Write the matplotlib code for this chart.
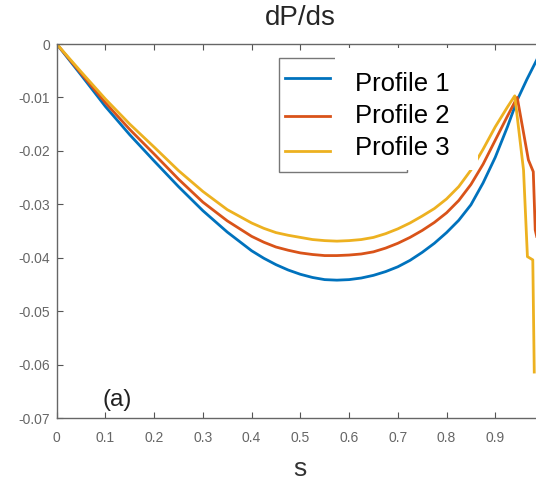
import matplotlib
matplotlib.use("Agg")
import matplotlib.pyplot as plt
from matplotlib.patches import Rectangle
from matplotlib.lines import Line2D

plt.rcParams['font.family'] = ['Liberation Sans', 'DejaVu Sans']

# values
s_main = [0, 0.05, 0.1, 0.15, 0.2, 0.25, 0.3, 0.35, 0.4, 0.425, 0.45, 0.475, 0.5, 0.525,
          0.55, 0.575, 0.6, 0.625, 0.65, 0.675, 0.7, 0.725, 0.75, 0.775, 0.8, 0.825,
          0.85, 0.875, 0.9, 0.925]

s1 = s_main + [0.945, 0.965, 0.985, 1.0]
p1 = [0, -0.0058, -0.0117, -0.0170, -0.0219, -0.0267, -0.0312, -0.0352, -0.0387, -0.0401,
      -0.0413, -0.0423, -0.0431, -0.0437, -0.0441, -0.0442, -0.0441, -0.0438, -0.0433,
      -0.0426, -0.0417, -0.0405, -0.0390, -0.0373, -0.0353, -0.0330, -0.0301, -0.0260,
      -0.0212, -0.0155,
      -0.0105, -0.0066, -0.0030, 0.0]

s2 = s_main + [0.945, 0.968, 0.978, 0.982, 0.985]
p2 = [0, -0.0055, -0.0110, -0.0160, -0.0206, -0.0253, -0.0296, -0.0331, -0.0360, -0.0371,
      -0.0380, -0.0386, -0.0391, -0.0394, -0.0396, -0.0396, -0.0395, -0.0393, -0.0389,
      -0.0382, -0.0373, -0.0362, -0.0349, -0.0334, -0.0316, -0.0293, -0.0263, -0.0225,
      -0.0180, -0.0135,
      -0.0100, -0.0217, -0.0239, -0.0348, -0.0360]

s3 = s_main + [0.94, 0.958, 0.966, 0.977, 0.980]
p3 = [0, -0.0052, -0.0103, -0.0150, -0.0193, -0.0237, -0.0276, -0.0310, -0.0335, -0.0345,
      -0.0353, -0.0358, -0.0362, -0.0366, -0.0368, -0.0369, -0.0368, -0.0366, -0.0362,
      -0.0355, -0.0346, -0.0335, -0.0322, -0.0308, -0.0290, -0.0267, -0.0236, -0.0197,
      -0.0155, -0.0118,
      -0.0097, -0.0236, -0.0398, -0.0404, -0.0614]

labels = ['Profile 1', 'Profile 2', 'Profile 3']
colors = ['#0072BD', '#D95319', '#EDB120']

xticks = [0, 0.1, 0.2, 0.3, 0.4, 0.5, 0.6, 0.7, 0.8, 0.9, 1.0]
xticklabels = ['0', '0.1', '0.2', '0.3', '0.4', '0.5', '0.6', '0.7', '0.8', '0.9', '']
yticks = [0, -0.01, -0.02, -0.03, -0.04, -0.05, -0.06, -0.07]
yticklabels = ['0', '-0.01', '-0.02', '-0.03', '-0.04', '-0.05', '-0.06', '-0.07']

W, H = 536, 480


def fx(px):
    return px / W


def fy(py):
    return 1 - py / H


fig = plt.figure(figsize=(W / 100, H / 100), dpi=100)
# axes runs past the right edge, the reference is cropped there
ax = fig.add_axes([fx(56.7), fy(418), (544 - 56.7) / W, (418 - 44) / H])

for s, p, c in zip([s1, s2, s3], [p1, p2, p3], colors):
    ax.plot(s, p, color=c, lw=2)

ax.set_xlim(0, 1)
ax.set_ylim(-0.07, 0)
ax.set_xticks(xticks)
ax.set_xticklabels(xticklabels)
ax.set_yticks(yticks)
ax.set_yticklabels(yticklabels)
ax.tick_params(direction='in', length=4, width=0.8, colors='#555555', labelsize=10,
               top=True, right=True, labelcolor='#666666', pad=5)
ax.tick_params(axis='x', pad=9)
for sp in ax.spines.values():
    sp.set_color('#666666')
    sp.set_linewidth(1)

ax.set_title('dP/ds', fontsize=20, color='#262626', pad=14)
ax.set_xlabel('s', fontsize=19, color='#333333', labelpad=9)
ax.text(0.095, -0.0677, '(a)', fontsize=17.5, color='#222222', va='baseline')

# legend frame and swatches
fig.add_artist(Rectangle((fx(279), fy(172)), (407 - 279) / W, (172 - 58) / H,
                         transform=fig.transFigure, facecolor='white',
                         edgecolor='#777777', lw=1, zorder=5))
for yy, c in zip([78, 116, 151], colors):
    fig.add_artist(Line2D([fx(285), fx(330)], [fy(yy), fy(yy)], color=c, lw=2,
                          transform=fig.transFigure, zorder=6))

# white text box pasted over the legend
fig.add_artist(Rectangle((fx(335), fy(170)), (478 - 335) / W, (170 - 48) / H,
                         transform=fig.transFigure, facecolor='white',
                         edgecolor='none', zorder=7))
for yy, lab in zip([84, 116, 148], labels):
    fig.text(fx(355), fy(yy), lab, fontsize=18.5, color='black', va='center',
             ha='left', zorder=8)

fig.savefig('out.png', dpi=100)
